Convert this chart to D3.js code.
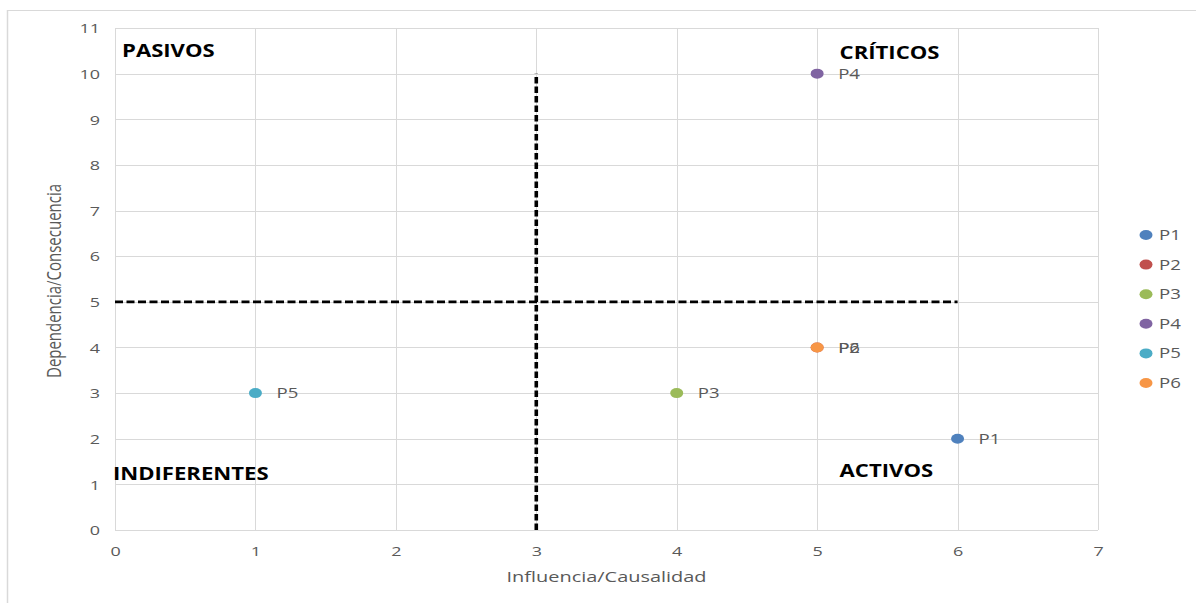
<!DOCTYPE html>
<html>
<head>
<meta charset="utf-8">
<script src="https://cdn.jsdelivr.net/npm/d3@7"></script>
<style>
  html, body { margin: 0; padding: 0; background: #fff; }
  svg { display: block; font-family: "Open Sans", "Liberation Sans", sans-serif; }
</style>
</head>
<body>
<svg id="chart" width="1196" height="603"></svg>
<script>
// Problem matrix: influence (x) vs. dependence (y)
const problems = ["P1", "P2", "P3", "P4", "P5", "P6"];
const influence = [6, 5, 4, 5, 1, 5];
const dependence = [2, 4, 3, 10, 3, 4];
const colors = ["#4F81BD", "#C0504D", "#9BBB59", "#8064A2", "#4BACC6", "#F79646"];

const xTicks = [0, 1, 2, 3, 4, 5, 6, 7];
const yTicks = [0, 1, 2, 3, 4, 5, 6, 7, 8, 9, 10, 11];

// Quadrant dividers (data units)
const vDivider = { x: 3, y0: 0, y1: 10 };
const hDivider = { y: 5, x0: 0, x1: 6 };

// Quadrant names and their anchor points (data units)
const quadrantNames = ["PASIVOS", "CRÍTICOS", "INDIFERENTES", "ACTIVOS"];
const quadrantX = [0.05, 5.16, -0.015, 5.16];
const quadrantY = [10.37, 10.33, 1.09, 1.16];

const svg = d3.select("#chart");
const W = 1196, H = 603;
const m = { left: 115, right: 1098, top: 28, bottom: 530 };
const SX = 1.33; // horizontal widening of the lettering

// Outer chart frame
svg.append("line").attr("x1", 7).attr("x2", W).attr("y1", 10.5).attr("y2", 10.5)
  .attr("stroke", "#d9d9d9").attr("stroke-width", 1);
svg.append("line").attr("x1", 7.5).attr("x2", 7.5).attr("y1", 10).attr("y2", H)
  .attr("stroke", "#d9d9d9").attr("stroke-width", 1.5);

const x = d3.scaleLinear().domain([0, 7]).range([m.left, m.right]);
const y = d3.scaleLinear().domain([0, 11]).range([m.bottom, m.top]);

// Gridlines
const grid = svg.append("g");
grid.selectAll(".vg").data(xTicks).join("line")
  .attr("x1", d => Math.round(x(d)) + 0.5).attr("x2", d => Math.round(x(d)) + 0.5)
  .attr("y1", m.top).attr("y2", m.bottom)
  .attr("stroke", "#d9d9d9").attr("stroke-width", 1);
grid.selectAll(".hg").data(yTicks).join("line")
  .attr("x1", m.left).attr("x2", m.right)
  .attr("y1", d => Math.round(y(d)) + 0.5).attr("y2", d => Math.round(y(d)) + 0.5)
  .attr("stroke", "#d9d9d9").attr("stroke-width", 1);

// Axes (tick labels only)
const xAxis = svg.append("g").attr("transform", `translate(0,${m.bottom})`)
  .call(d3.axisBottom(x).tickValues(xTicks).tickSize(0).tickPadding(16).tickFormat(d3.format("d")));
const yAxis = svg.append("g").attr("transform", `translate(${m.left},0)`)
  .call(d3.axisLeft(y).tickValues(yTicks).tickSize(0).tickPadding(15).tickFormat(d3.format("d")));
[xAxis, yAxis].forEach(a => {
  a.select(".domain").remove();
  a.selectAll("text").attr("fill", "#595959").style("font-size", "13.5px")
    .style("font-family", "'Open Sans', sans-serif")
    .attr("transform", `scale(${SX},1)`);
});
yAxis.selectAll("text").attr("dy", "0.35em").attr("x", -15 / SX);

// Axis titles
svg.append("text")
  .attr("transform", `translate(${x(3.5)},582) scale(${SX},1)`)
  .attr("text-anchor", "middle").attr("fill", "#595959").style("font-size", "15px")
  .text("Influencia/Causalidad");
svg.append("text")
  .attr("transform", `translate(61,281) scale(${SX},1) rotate(-90)`)
  .attr("text-anchor", "middle").attr("fill", "#595959").style("font-size", "15px")
  .text("Dependencia/Consecuencia");

// Dashed dividers
svg.append("line")
  .attr("x1", x(vDivider.x)).attr("x2", x(vDivider.x))
  .attr("y1", y(vDivider.y0)).attr("y2", y(vDivider.y1))
  .attr("stroke", "#000").attr("stroke-width", 3.6).attr("stroke-dasharray", "6.5,3");
svg.append("line")
  .attr("x1", x(hDivider.x0)).attr("x2", x(hDivider.x1))
  .attr("y1", y(hDivider.y)).attr("y2", y(hDivider.y))
  .attr("stroke", "#000").attr("stroke-width", 2.8).attr("stroke-dasharray", "8,3.5");

// Quadrant names
svg.selectAll(".quad").data(quadrantNames).join("text")
  .attr("transform", (d, i) => `translate(${x(quadrantX[i])},${y(quadrantY[i])}) scale(1.3,1)`)
  .attr("fill", "#000").style("font-size", "17px").style("font-weight", "bold")
  .text(d => d);

// Points
const pts = problems.map((p, i) => ({ name: p, x: influence[i], y: dependence[i], color: colors[i] }));
svg.selectAll(".pt").data(pts).join("ellipse")
  .attr("cx", d => x(d.x)).attr("cy", d => y(d.y)).attr("rx", 6.5).attr("ry", 5)
  .attr("fill", d => d.color);

// Point labels
svg.selectAll(".plabel").data(pts).join("text")
  .attr("transform", d => `translate(${x(d.x) + 21},${y(d.y)}) scale(${SX},1)`)
  .attr("dy", "0.36em")
  .attr("fill", "#595959").style("font-size", "14px")
  .text(d => d.name);

// Legend
const legend = svg.append("g").attr("transform", "translate(1146,235)");
const item = legend.selectAll("g").data(pts).join("g")
  .attr("transform", (d, i) => `translate(0,${i * 29.6})`);
item.append("ellipse").attr("rx", 6.5).attr("ry", 5).attr("fill", d => d.color);
item.append("text").attr("transform", `translate(13,0) scale(${SX},1)`)
  .attr("dy", "0.36em").attr("fill", "#595959")
  .style("font-size", "14px").text(d => d.name);
</script>
</body>
</html>
